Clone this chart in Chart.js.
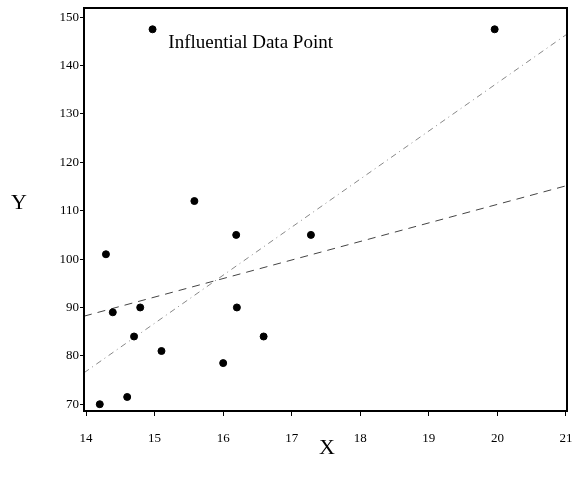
<!DOCTYPE html>
<html>
<head>
<meta charset="utf-8">
<script src="https://cdn.jsdelivr.net/npm/chart.js@4"></script>
<style>
  html, body { margin: 0; padding: 0; background: #fff; }
  #wrap { width: 572px; height: 488px; }
</style>
</head>
<body>
<div id="wrap"><canvas id="chart" width="572" height="488"></canvas></div>
<script>
// observed points
const xVals = [14.97, 19.96, 14.29, 14.39, 14.79, 14.70, 14.20, 14.60, 15.10, 15.58, 16.19, 16.20, 16.00, 16.59, 17.28];
const yVals = [147.5, 147.5, 101, 89, 90, 84, 70, 71.5, 81, 112, 105, 90, 78.5, 84, 105];

// fitted lines (end points)
const fitAllX = [13.97, 21.015];
const fitAllY = [76.5, 146.5];
const fitTrimX = [13.97, 21.015];
const fitTrimY = [88.2, 115.2];

const xTicks = [14, 15, 16, 17, 18, 19, 20, 21];
const yTicks = [70, 80, 90, 100, 110, 120, 130, 140, 150];

const noteText = 'Influential Data Point';
const noteAt = { x: 15.2, y: 144.6 };

const serif = '"Liberation Serif", "DejaVu Serif", serif';

const toPts = (xs, ys) => xs.map((x, i) => ({ x, y: ys[i] }));

// frame, axis titles and the note
const decor = {
  id: 'decor',
  afterDraw(chart) {
    const { ctx, chartArea: a, scales } = chart;
    ctx.save();
    ctx.strokeStyle = '#000';
    ctx.lineWidth = 2;
    ctx.strokeRect(a.left, a.top, a.right - a.left, a.bottom - a.top);

    ctx.fillStyle = '#000';
    ctx.textAlign = 'left';
    ctx.textBaseline = 'middle';
    ctx.font = '19px ' + serif;
    ctx.fillText(noteText, scales.x.getPixelForValue(noteAt.x), scales.y.getPixelForValue(noteAt.y));

    ctx.textAlign = 'center';
    ctx.font = '22px ' + serif;
    ctx.fillText('Y', 19, 203);
    ctx.fillText('X', 327, 448);
    ctx.restore();
  }
};

new Chart(document.getElementById('chart').getContext('2d'), {
  type: 'scatter',
  data: {
    datasets: [
      {
        label: 'Data',
        data: toPts(xVals, yVals),
        backgroundColor: '#000',
        borderColor: '#000',
        pointRadius: 3.5,
        pointHoverRadius: 3.5
      },
      {
        label: 'Fit (all)',
        type: 'line',
        data: toPts(fitAllX, fitAllY),
        borderColor: '#888',
        borderWidth: 1,
        borderDash: [6, 4, 1, 4],
        pointRadius: 0,
        fill: false
      },
      {
        label: 'Fit (without)',
        type: 'line',
        data: toPts(fitTrimX, fitTrimY),
        borderColor: '#444',
        borderWidth: 1,
        borderDash: [8, 6],
        pointRadius: 0,
        fill: false
      }
    ]
  },
  options: {
    responsive: false,
    animation: false,
    layout: { padding: { left: 0, right: 5, top: 8, bottom: 0 } },
    plugins: { legend: { display: false }, tooltip: { enabled: false } },
    scales: {
      x: {
        type: 'linear',
        min: 13.97,
        max: 21.015,
        afterBuildTicks: (s) => { s.ticks = xTicks.map(v => ({ value: v })); },
        afterFit: (s) => { s.height = 77; s.paddingLeft = 0; s.paddingRight = 0; },
        grid: { drawOnChartArea: false, drawTicks: true, tickLength: 5, color: '#000' },
        border: { display: false },
        ticks: { color: '#000', padding: 15, maxRotation: 0, font: { family: serif, size: 13 } }
      },
      y: {
        type: 'linear',
        min: 68.6,
        max: 151.9,
        afterBuildTicks: (s) => { s.ticks = yTicks.map(v => ({ value: v })); },
        afterFit: (s) => { s.width = 84; s.paddingTop = 0; s.paddingBottom = 0; },
        grid: { drawOnChartArea: false, drawTicks: true, tickLength: 4, color: '#000' },
        border: { display: false },
        ticks: { color: '#000', padding: 1, font: { family: serif, size: 13 } }
      }
    }
  },
  plugins: [decor]
});
</script>
</body>
</html>
